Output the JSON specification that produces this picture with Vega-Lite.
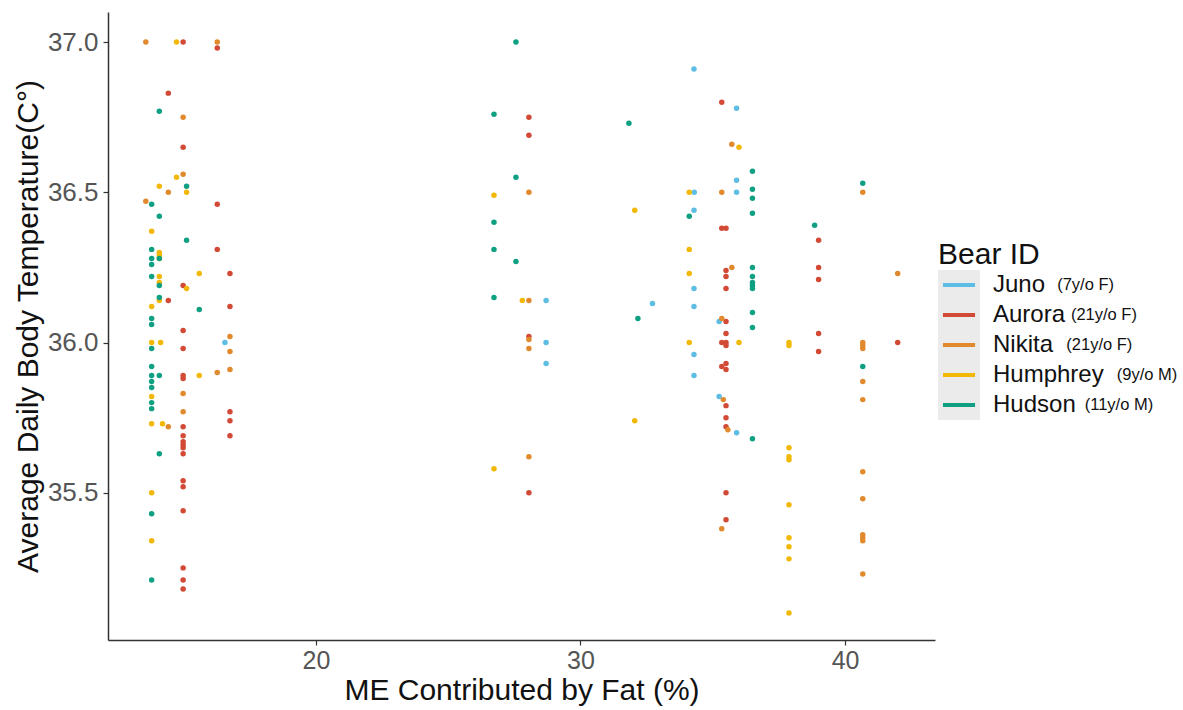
{
  "$schema": "https://vega.github.io/schema/vega-lite/v6.json",
  "width": 827,
  "height": 628,
  "autosize": {"type": "none"},
  "padding": {"left": 108, "top": 12, "right": 248, "bottom": 70},
  "background": "white",
  "config": {"view": {"stroke": null}, "font": "Liberation Sans"},
  "datasets": {
    "bears": [
      {"bear": "Juno", "tag": "Juno (7y/o F)"},
      {"bear": "Aurora", "tag": "Aurora (21y/o F)"},
      {"bear": "Nikita", "tag": "Nikita (21y/o F)"},
      {"bear": "Humphrey", "tag": "Humphrey (9y/o M)"},
      {"bear": "Hudson", "tag": "Hudson (11y/o M)"}
    ],
    "temps": [
      {"bear": "Juno", "fat": 16.56, "temp": 36.0},
      {"bear": "Juno", "fat": 28.7, "temp": 36.14},
      {"bear": "Juno", "fat": 28.7, "temp": 36.0},
      {"bear": "Juno", "fat": 28.7, "temp": 35.93},
      {"bear": "Juno", "fat": 34.29, "temp": 36.91},
      {"bear": "Juno", "fat": 35.9, "temp": 36.78},
      {"bear": "Juno", "fat": 35.9, "temp": 36.54},
      {"bear": "Juno", "fat": 34.3, "temp": 36.5},
      {"bear": "Juno", "fat": 35.9, "temp": 36.5},
      {"bear": "Juno", "fat": 34.29, "temp": 36.44},
      {"bear": "Juno", "fat": 34.29, "temp": 36.18},
      {"bear": "Juno", "fat": 32.72, "temp": 36.13},
      {"bear": "Juno", "fat": 34.29, "temp": 36.12},
      {"bear": "Juno", "fat": 35.24, "temp": 36.07},
      {"bear": "Juno", "fat": 34.29, "temp": 35.96},
      {"bear": "Juno", "fat": 34.29, "temp": 35.89},
      {"bear": "Juno", "fat": 35.24, "temp": 35.82},
      {"bear": "Juno", "fat": 35.9, "temp": 35.7},

      {"bear": "Aurora", "fat": 14.98, "temp": 37.0},
      {"bear": "Aurora", "fat": 16.27, "temp": 36.98},
      {"bear": "Aurora", "fat": 14.42, "temp": 36.83},
      {"bear": "Aurora", "fat": 14.98, "temp": 36.65},
      {"bear": "Aurora", "fat": 16.27, "temp": 36.46},
      {"bear": "Aurora", "fat": 16.27, "temp": 36.31},
      {"bear": "Aurora", "fat": 16.75, "temp": 36.23},
      {"bear": "Aurora", "fat": 14.98, "temp": 36.19},
      {"bear": "Aurora", "fat": 14.42, "temp": 36.14},
      {"bear": "Aurora", "fat": 16.75, "temp": 36.12},
      {"bear": "Aurora", "fat": 14.98, "temp": 36.04},
      {"bear": "Aurora", "fat": 14.98, "temp": 35.98},
      {"bear": "Aurora", "fat": 14.98, "temp": 35.89},
      {"bear": "Aurora", "fat": 14.98, "temp": 35.88},
      {"bear": "Aurora", "fat": 16.75, "temp": 35.77},
      {"bear": "Aurora", "fat": 16.75, "temp": 35.74},
      {"bear": "Aurora", "fat": 14.98, "temp": 35.72},
      {"bear": "Aurora", "fat": 14.98, "temp": 35.69},
      {"bear": "Aurora", "fat": 14.98, "temp": 35.67},
      {"bear": "Aurora", "fat": 14.98, "temp": 35.66},
      {"bear": "Aurora", "fat": 14.98, "temp": 35.65},
      {"bear": "Aurora", "fat": 16.75, "temp": 35.69},
      {"bear": "Aurora", "fat": 14.98, "temp": 35.63},
      {"bear": "Aurora", "fat": 14.98, "temp": 35.54},
      {"bear": "Aurora", "fat": 14.98, "temp": 35.52},
      {"bear": "Aurora", "fat": 14.98, "temp": 35.44},
      {"bear": "Aurora", "fat": 14.98, "temp": 35.25},
      {"bear": "Aurora", "fat": 14.98, "temp": 35.21},
      {"bear": "Aurora", "fat": 14.98, "temp": 35.18},
      {"bear": "Aurora", "fat": 28.05, "temp": 36.75},
      {"bear": "Aurora", "fat": 28.05, "temp": 36.69},
      {"bear": "Aurora", "fat": 28.05, "temp": 36.02},
      {"bear": "Aurora", "fat": 28.05, "temp": 35.5},
      {"bear": "Aurora", "fat": 35.34, "temp": 36.8},
      {"bear": "Aurora", "fat": 35.34, "temp": 36.38},
      {"bear": "Aurora", "fat": 35.5, "temp": 36.38},
      {"bear": "Aurora", "fat": 35.5, "temp": 36.24},
      {"bear": "Aurora", "fat": 35.5, "temp": 36.22},
      {"bear": "Aurora", "fat": 35.5, "temp": 36.18},
      {"bear": "Aurora", "fat": 35.5, "temp": 36.07},
      {"bear": "Aurora", "fat": 35.5, "temp": 36.03},
      {"bear": "Aurora", "fat": 35.34, "temp": 36.0},
      {"bear": "Aurora", "fat": 35.5, "temp": 36.0},
      {"bear": "Aurora", "fat": 35.5, "temp": 35.99},
      {"bear": "Aurora", "fat": 35.34, "temp": 35.92},
      {"bear": "Aurora", "fat": 35.5, "temp": 35.93},
      {"bear": "Aurora", "fat": 35.5, "temp": 35.91},
      {"bear": "Aurora", "fat": 35.5, "temp": 35.79},
      {"bear": "Aurora", "fat": 35.5, "temp": 35.75},
      {"bear": "Aurora", "fat": 35.5, "temp": 35.72},
      {"bear": "Aurora", "fat": 35.5, "temp": 35.5},
      {"bear": "Aurora", "fat": 35.5, "temp": 35.41},
      {"bear": "Aurora", "fat": 39.0, "temp": 36.34},
      {"bear": "Aurora", "fat": 39.0, "temp": 36.25},
      {"bear": "Aurora", "fat": 39.0, "temp": 36.21},
      {"bear": "Aurora", "fat": 39.0, "temp": 36.03},
      {"bear": "Aurora", "fat": 39.0, "temp": 35.97},
      {"bear": "Aurora", "fat": 41.99, "temp": 36.0},

      {"bear": "Nikita", "fat": 13.57, "temp": 37.0},
      {"bear": "Nikita", "fat": 16.27, "temp": 37.0},
      {"bear": "Nikita", "fat": 14.98, "temp": 36.75},
      {"bear": "Nikita", "fat": 14.98, "temp": 36.56},
      {"bear": "Nikita", "fat": 14.42, "temp": 36.5},
      {"bear": "Nikita", "fat": 13.57, "temp": 36.47},
      {"bear": "Nikita", "fat": 16.75, "temp": 36.02},
      {"bear": "Nikita", "fat": 16.75, "temp": 35.97},
      {"bear": "Nikita", "fat": 16.75, "temp": 35.91},
      {"bear": "Nikita", "fat": 16.27, "temp": 35.9},
      {"bear": "Nikita", "fat": 14.98, "temp": 35.83},
      {"bear": "Nikita", "fat": 14.98, "temp": 35.77},
      {"bear": "Nikita", "fat": 14.42, "temp": 35.72},
      {"bear": "Nikita", "fat": 28.05, "temp": 36.5},
      {"bear": "Nikita", "fat": 28.05, "temp": 36.14},
      {"bear": "Nikita", "fat": 28.05, "temp": 36.01},
      {"bear": "Nikita", "fat": 28.05, "temp": 35.98},
      {"bear": "Nikita", "fat": 28.05, "temp": 35.62},
      {"bear": "Nikita", "fat": 35.72, "temp": 36.66},
      {"bear": "Nikita", "fat": 35.34, "temp": 36.5},
      {"bear": "Nikita", "fat": 35.72, "temp": 36.25},
      {"bear": "Nikita", "fat": 35.34, "temp": 36.08},
      {"bear": "Nikita", "fat": 35.4, "temp": 35.81},
      {"bear": "Nikita", "fat": 35.57, "temp": 35.71},
      {"bear": "Nikita", "fat": 35.34, "temp": 35.38},
      {"bear": "Nikita", "fat": 40.67, "temp": 36.5},
      {"bear": "Nikita", "fat": 41.99, "temp": 36.23},
      {"bear": "Nikita", "fat": 40.67, "temp": 36.0},
      {"bear": "Nikita", "fat": 40.67, "temp": 35.99},
      {"bear": "Nikita", "fat": 40.67, "temp": 35.98},
      {"bear": "Nikita", "fat": 40.67, "temp": 35.87},
      {"bear": "Nikita", "fat": 40.67, "temp": 35.81},
      {"bear": "Nikita", "fat": 40.67, "temp": 35.57},
      {"bear": "Nikita", "fat": 40.67, "temp": 35.48},
      {"bear": "Nikita", "fat": 40.67, "temp": 35.36},
      {"bear": "Nikita", "fat": 40.67, "temp": 35.35},
      {"bear": "Nikita", "fat": 40.67, "temp": 35.34},
      {"bear": "Nikita", "fat": 40.67, "temp": 35.23},

      {"bear": "Humphrey", "fat": 14.73, "temp": 37.0},
      {"bear": "Humphrey", "fat": 14.73, "temp": 36.55},
      {"bear": "Humphrey", "fat": 14.08, "temp": 36.52},
      {"bear": "Humphrey", "fat": 15.11, "temp": 36.5},
      {"bear": "Humphrey", "fat": 13.79, "temp": 36.37},
      {"bear": "Humphrey", "fat": 14.08, "temp": 36.3},
      {"bear": "Humphrey", "fat": 14.08, "temp": 36.29},
      {"bear": "Humphrey", "fat": 14.08, "temp": 36.28},
      {"bear": "Humphrey", "fat": 15.59, "temp": 36.23},
      {"bear": "Humphrey", "fat": 14.08, "temp": 36.22},
      {"bear": "Humphrey", "fat": 14.08, "temp": 36.2},
      {"bear": "Humphrey", "fat": 15.11, "temp": 36.18},
      {"bear": "Humphrey", "fat": 14.08, "temp": 36.14},
      {"bear": "Humphrey", "fat": 13.79, "temp": 36.12},
      {"bear": "Humphrey", "fat": 13.79, "temp": 36.0},
      {"bear": "Humphrey", "fat": 14.13, "temp": 36.0},
      {"bear": "Humphrey", "fat": 15.59, "temp": 35.89},
      {"bear": "Humphrey", "fat": 13.79, "temp": 35.82},
      {"bear": "Humphrey", "fat": 13.79, "temp": 35.73},
      {"bear": "Humphrey", "fat": 14.2, "temp": 35.73},
      {"bear": "Humphrey", "fat": 13.79, "temp": 35.5},
      {"bear": "Humphrey", "fat": 13.79, "temp": 35.34},
      {"bear": "Humphrey", "fat": 26.73, "temp": 36.49},
      {"bear": "Humphrey", "fat": 27.8, "temp": 36.14},
      {"bear": "Humphrey", "fat": 26.73, "temp": 35.58},
      {"bear": "Humphrey", "fat": 35.99, "temp": 36.65},
      {"bear": "Humphrey", "fat": 34.11, "temp": 36.5},
      {"bear": "Humphrey", "fat": 32.05, "temp": 36.44},
      {"bear": "Humphrey", "fat": 34.11, "temp": 36.31},
      {"bear": "Humphrey", "fat": 34.11, "temp": 36.23},
      {"bear": "Humphrey", "fat": 34.11, "temp": 36.0},
      {"bear": "Humphrey", "fat": 35.99, "temp": 36.0},
      {"bear": "Humphrey", "fat": 32.05, "temp": 35.74},
      {"bear": "Humphrey", "fat": 37.88, "temp": 36.0},
      {"bear": "Humphrey", "fat": 37.88, "temp": 35.99},
      {"bear": "Humphrey", "fat": 37.88, "temp": 35.65},
      {"bear": "Humphrey", "fat": 37.88, "temp": 35.62},
      {"bear": "Humphrey", "fat": 37.88, "temp": 35.61},
      {"bear": "Humphrey", "fat": 37.88, "temp": 35.46},
      {"bear": "Humphrey", "fat": 37.88, "temp": 35.35},
      {"bear": "Humphrey", "fat": 37.88, "temp": 35.32},
      {"bear": "Humphrey", "fat": 37.88, "temp": 35.28},
      {"bear": "Humphrey", "fat": 37.88, "temp": 35.1},

      {"bear": "Hudson", "fat": 14.08, "temp": 36.77},
      {"bear": "Hudson", "fat": 15.11, "temp": 36.52},
      {"bear": "Hudson", "fat": 13.79, "temp": 36.46},
      {"bear": "Hudson", "fat": 14.08, "temp": 36.42},
      {"bear": "Hudson", "fat": 15.11, "temp": 36.34},
      {"bear": "Hudson", "fat": 13.79, "temp": 36.31},
      {"bear": "Hudson", "fat": 14.08, "temp": 36.28},
      {"bear": "Hudson", "fat": 13.79, "temp": 36.28},
      {"bear": "Hudson", "fat": 13.79, "temp": 36.26},
      {"bear": "Hudson", "fat": 13.79, "temp": 36.22},
      {"bear": "Hudson", "fat": 14.08, "temp": 36.19},
      {"bear": "Hudson", "fat": 14.08, "temp": 36.15},
      {"bear": "Hudson", "fat": 15.59, "temp": 36.11},
      {"bear": "Hudson", "fat": 13.79, "temp": 36.08},
      {"bear": "Hudson", "fat": 13.79, "temp": 36.06},
      {"bear": "Hudson", "fat": 13.79, "temp": 35.98},
      {"bear": "Hudson", "fat": 13.79, "temp": 35.92},
      {"bear": "Hudson", "fat": 13.79, "temp": 35.89},
      {"bear": "Hudson", "fat": 14.08, "temp": 35.89},
      {"bear": "Hudson", "fat": 13.79, "temp": 35.87},
      {"bear": "Hudson", "fat": 13.79, "temp": 35.85},
      {"bear": "Hudson", "fat": 13.79, "temp": 35.8},
      {"bear": "Hudson", "fat": 13.79, "temp": 35.78},
      {"bear": "Hudson", "fat": 14.08, "temp": 35.63},
      {"bear": "Hudson", "fat": 13.79, "temp": 35.43},
      {"bear": "Hudson", "fat": 13.79, "temp": 35.21},
      {"bear": "Hudson", "fat": 27.56, "temp": 37.0},
      {"bear": "Hudson", "fat": 26.73, "temp": 36.76},
      {"bear": "Hudson", "fat": 27.56, "temp": 36.55},
      {"bear": "Hudson", "fat": 26.73, "temp": 36.4},
      {"bear": "Hudson", "fat": 26.73, "temp": 36.31},
      {"bear": "Hudson", "fat": 27.56, "temp": 36.27},
      {"bear": "Hudson", "fat": 26.73, "temp": 36.15},
      {"bear": "Hudson", "fat": 31.83, "temp": 36.73},
      {"bear": "Hudson", "fat": 36.5, "temp": 36.57},
      {"bear": "Hudson", "fat": 36.5, "temp": 36.51},
      {"bear": "Hudson", "fat": 36.5, "temp": 36.48},
      {"bear": "Hudson", "fat": 36.5, "temp": 36.43},
      {"bear": "Hudson", "fat": 34.11, "temp": 36.42},
      {"bear": "Hudson", "fat": 36.5, "temp": 36.25},
      {"bear": "Hudson", "fat": 36.5, "temp": 36.22},
      {"bear": "Hudson", "fat": 36.5, "temp": 36.2},
      {"bear": "Hudson", "fat": 36.5, "temp": 36.19},
      {"bear": "Hudson", "fat": 36.5, "temp": 36.18},
      {"bear": "Hudson", "fat": 32.17, "temp": 36.08},
      {"bear": "Hudson", "fat": 36.5, "temp": 36.1},
      {"bear": "Hudson", "fat": 36.5, "temp": 36.05},
      {"bear": "Hudson", "fat": 36.5, "temp": 35.68},
      {"bear": "Hudson", "fat": 38.85, "temp": 36.39},
      {"bear": "Hudson", "fat": 40.67, "temp": 36.53},
      {"bear": "Hudson", "fat": 40.67, "temp": 35.92}
    ]
  },
  "data": {"name": "temps"},
  "transform": [
    {"lookup": "bear", "from": {"data": {"name": "bears"}, "key": "bear", "fields": ["tag"]}}
  ],
  "mark": {"type": "point", "filled": true, "size": 30},
  "encoding": {
    "x": {
      "field": "fat",
      "type": "quantitative",
      "scale": {"domain": [12.14, 43.4], "nice": false, "zero": false},
      "axis": {
        "title": "ME Contributed by Fat (%)",
        "values": [20, 30, 40],
        "grid": false,
        "domainColor": "#333333",
        "domainWidth": 1.5,
        "tickColor": "#333333",
        "tickSize": 5,
        "tickWidth": 1.2,
        "labelFontSize": 25,
        "labelColor": "#555555",
        "labelPadding": 3,
        "titleFontSize": 30,
        "titleFontWeight": "normal",
        "titleColor": "#111111",
        "titlePadding": 2
      }
    },
    "y": {
      "field": "temp",
      "type": "quantitative",
      "scale": {"domain": [35.01, 37.1], "nice": false, "zero": false},
      "axis": {
        "title": "Average Daily Body Temperature(C°)",
        "values": [35.5, 36, 36.5, 37],
        "format": ".1f",
        "grid": false,
        "domainColor": "#333333",
        "domainWidth": 1.5,
        "tickColor": "#333333",
        "tickSize": 5,
        "tickWidth": 1.2,
        "labelFontSize": 26,
        "labelColor": "#555555",
        "labelPadding": 5,
        "titleFontSize": 30,
        "titleFontWeight": "normal",
        "titleColor": "#111111",
        "titlePadding": 4
      }
    },
    "color": {
      "field": "bear",
      "type": "nominal",
      "scale": {
        "domain": ["Juno", "Aurora", "Nikita", "Humphrey", "Hudson"],
        "range": ["#5DBDE3", "#D24A35", "#E1892D", "#F2B807", "#0FA083"]
      },
      "legend": {
        "title": "Bear ID",
        "orient": "none",
        "legendX": 830,
        "legendY": 228,
        "zindex": 2,
        "padding": 0,
        "symbolType": "M-1.07,-0.14H1.07V0.14H-1.07Z",
        "symbolSize": 900,
        "symbolStrokeWidth": 0,
        "symbolOpacity": 1,
        "symbolOffset": 6,
        "clipHeight": 30,
        "rowPadding": 0,
        "titleFontSize": 30,
        "titleFontWeight": "normal",
        "titleColor": "#111111",
        "titlePadding": 0,
        "labelFontSize": 24,
        "labelColor": "#111111",
        "labelBaseline": "middle",
        "labelOffset": 19,
        "encode": {
          "labels": {"dy": {"value": 2}}
        }
      }
    },
    "opacity": {
      "field": "tag",
      "type": "ordinal",
      "scale": {
        "domain": ["Juno (7y/o F)", "Aurora (21y/o F)", "Nikita (21y/o F)", "Humphrey (9y/o M)", "Hudson (11y/o M)"],
        "range": [1, 1, 1, 1, 1]
      },
      "legend": {
        "title": "Bear ID",
        "titleOpacity": 0,
        "orient": "none",
        "legendX": 830,
        "legendY": 228,
        "zindex": 1,
        "padding": 0,
        "symbolType": "M-1.4,-1H1.4V1H-1.4Z",
        "symbolSize": 900,
        "symbolFillColor": "#EBEBEB",
        "symbolStrokeColor": "#EBEBEB",
        "symbolStrokeWidth": 0,
        "symbolOffset": 6,
        "clipHeight": 30,
        "rowPadding": 0,
        "titleFontSize": 30,
        "titleFontWeight": "normal",
        "titlePadding": 0,
        "labelFontSize": 16.5,
        "labelColor": "#111111",
        "labelBaseline": "middle",
        "labelOffset": 19,
        "labelLimit": 300,
        "labelExpr": "'\u200b' + pad('\u200b', datum.value === 'Juno (7y/o F)' ? 15 : datum.value === 'Aurora (21y/o F)' ? 18 : datum.value === 'Nikita (21y/o F)' ? 17 : datum.value === 'Humphrey (9y/o M)' ? 28 : 21, '\u00a0') + slice(datum.label, indexof(datum.label, '('))",
        "encode": {
          "labels": {"dy": {"value": 4}}
        }
      }
    }
  }
}
